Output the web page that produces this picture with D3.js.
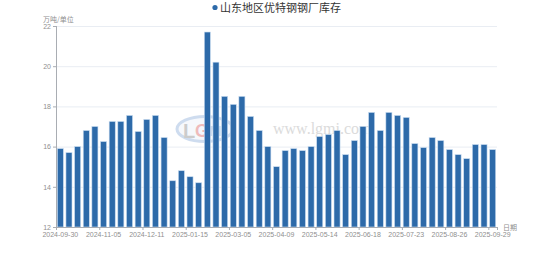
<!DOCTYPE html>
<html>
<head>
<meta charset="utf-8">
<script src="https://cdn.jsdelivr.net/npm/d3@7"></script>
<style>
  html, body { margin: 0; padding: 0; background: #fff; }
  svg { display: block; font-family: "Noto Sans CJK SC", "Noto Sans", sans-serif; }
</style>
</head>
<body>
<svg id="chart"></svg>
<script>
const dates = [
  "2024-09-30", "2024-10-10", "2024-10-16", "2024-10-23", "2024-10-30",
  "2024-11-05", "2024-11-13", "2024-11-20", "2024-11-27", "2024-12-04",
  "2024-12-11", "2024-12-18", "2024-12-25", "2025-01-02", "2025-01-08",
  "2025-01-15", "2025-01-22", "2025-02-12", "2025-02-19", "2025-02-26",
  "2025-03-05", "2025-03-12", "2025-03-19", "2025-03-26", "2025-04-02",
  "2025-04-09", "2025-04-16", "2025-04-23", "2025-04-30", "2025-05-07",
  "2025-05-14", "2025-05-21", "2025-05-28", "2025-06-04", "2025-06-11",
  "2025-06-18", "2025-06-25", "2025-07-02", "2025-07-09", "2025-07-16",
  "2025-07-23", "2025-07-30", "2025-08-06", "2025-08-13", "2025-08-20",
  "2025-08-26", "2025-09-03", "2025-09-10", "2025-09-17", "2025-09-24",
  "2025-09-29"
];

const stock = [
  15.9, 15.7, 16.0, 16.8, 17.0,
  16.25, 17.25, 17.25, 17.55, 16.75,
  17.35, 17.55, 16.45, 14.3, 14.8,
  14.5, 14.2, 21.7, 20.2, 18.5,
  18.1, 18.5, 17.5, 16.8, 16.0,
  15.0, 15.8, 15.9, 15.8, 16.0,
  16.5, 16.6, 16.8, 15.6, 16.3,
  17.0, 17.7, 16.8, 17.7, 17.55,
  17.45, 16.15, 15.95, 16.45, 16.3,
  15.85, 15.6, 15.4, 16.1, 16.1,
  15.85
];

const yTicks = [12, 14, 16, 18, 20, 22];

const seriesName = "山东地区优特钢钢厂库存";
const yName = "万吨/单位";
const xName = "日期";

const width = 553;
const height = 259;
const plotLeft = 56;
const plotRight = 497;
const plotTop = 26;
const plotBottom = 227;

const barColor = "#2d6aa9";
const axisColor = "#a9adb3";
const labelColor = "#8f8f8f";

const svg = d3.select("#chart")
  .attr("width", width)
  .attr("height", height);

svg.append("rect")
  .attr("width", width)
  .attr("height", height)
  .attr("fill", "#fff");

const xScale = d3.scaleBand()
  .domain(dates)
  .range([plotLeft, plotRight])
  .padding(0);

const yScale = d3.scaleLinear()
  .domain([12, 22])
  .range([plotBottom, plotTop]);

// grid lines
svg.append("g")
  .selectAll("line")
  .data(yTicks.slice(1))
  .enter()
  .append("line")
  .attr("x1", plotLeft)
  .attr("x2", plotRight)
  .attr("y1", (d) => yScale(d) + 0.5)
  .attr("y2", (d) => yScale(d) + 0.5)
  .attr("stroke", "#e9edf3")
  .attr("stroke-width", 1);

// watermark (behind the bars)
const wm = svg.append("g").attr("opacity", 0.5);
wm.append("ellipse")
  .attr("cx", 205).attr("cy", 129)
  .attr("rx", 28).attr("ry", 12.5)
  .attr("fill", "#eef3fa")
  .attr("stroke", "#9fbbe0")
  .attr("stroke-width", 3);
wm.append("text")
  .attr("x", 183).attr("y", 138)
  .attr("font-family", "Liberation Sans, sans-serif")
  .attr("font-size", 20).attr("font-weight", "bold")
  .attr("fill", "#9a9a9a")
  .text("L");
wm.append("text")
  .attr("x", 195).attr("y", 137)
  .attr("font-family", "Liberation Sans, sans-serif")
  .attr("font-size", 18).attr("font-weight", "bold")
  .attr("fill", "#e07a7a")
  .text("G");
wm.append("text")
  .attr("x", 209).attr("y", 136)
  .attr("font-family", "Liberation Sans, sans-serif")
  .attr("font-size", 15).attr("font-weight", "bold")
  .attr("fill", "#9fb6d6")
  .text("MI");
wm.append("text")
  .attr("x", 273).attr("y", 134)
  .attr("font-family", "Liberation Serif, DejaVu Serif, serif")
  .attr("font-size", 16)
  .attr("fill", "#b8b8b8")
  .text("www.lgmi.com");

// bars
const bw = xScale.bandwidth();
svg.append("g")
  .selectAll("rect")
  .data(stock)
  .enter()
  .append("rect")
  .attr("x", (d, i) => xScale(dates[i]) + bw * 0.15)
  .attr("width", bw * 0.7)
  .attr("y", (d) => yScale(d))
  .attr("height", (d) => yScale(12) - yScale(d))
  .attr("fill", barColor)
  .attr("stroke", "#c9dcf0")
  .attr("stroke-width", 0.6);

// x axis
const xAxis = d3.axisBottom(xScale)
  .tickValues(dates.filter((d, i) => i % 5 === 0))
  .tickSize(0)
  .tickPadding(5);

const gx = svg.append("g")
  .attr("transform", "translate(0," + plotBottom + ")")
  .call(xAxis);
gx.select(".domain").remove();
gx.selectAll("text")
  .attr("fill", labelColor)
  .attr("font-size", 7)
  .attr("font-family", "Liberation Sans, Arial, sans-serif");

gx.append("line")
  .attr("x1", plotLeft).attr("x2", plotRight)
  .attr("y1", 0.5).attr("y2", 0.5)
  .attr("stroke", axisColor);

// ticks on category boundaries
gx.selectAll(".btick")
  .data(dates.filter((d, i) => i % 5 === 0).concat(["end"]))
  .enter()
  .append("line")
  .attr("class", "btick")
  .attr("x1", (d) => (d === "end" ? plotRight : xScale(d)) + 0.5)
  .attr("x2", (d) => (d === "end" ? plotRight : xScale(d)) + 0.5)
  .attr("y1", 0)
  .attr("y2", 3)
  .attr("stroke", axisColor);

// y axis
const yAxis = d3.axisLeft(yScale)
  .tickValues(yTicks)
  .tickSize(3)
  .tickPadding(2);

const gy = svg.append("g")
  .attr("transform", "translate(" + plotLeft + ",0)")
  .call(yAxis);
gy.select(".domain")
  .attr("stroke", axisColor)
  .attr("d", "M0.5," + plotTop + "V" + plotBottom);
gy.selectAll(".tick line").attr("stroke", axisColor);
gy.selectAll("text")
  .attr("fill", labelColor)
  .attr("font-size", 7)
  .attr("font-family", "Liberation Sans, Arial, sans-serif");

// axis names
svg.append("text")
  .attr("x", 43).attr("y", 21.5)
  .attr("font-size", 7)
  .attr("fill", labelColor)
  .text(yName);

svg.append("text")
  .attr("x", 503).attr("y", 229.5)
  .attr("font-size", 7)
  .attr("fill", labelColor)
  .text(xName);

// legend
svg.append("circle")
  .attr("cx", 215).attr("cy", 7.5)
  .attr("r", 2.6)
  .attr("fill", barColor);

svg.append("text")
  .attr("x", 220).attr("y", 11.5)
  .attr("font-size", 11)
  .attr("fill", "#333")
  .text(seriesName);
</script>
</body>
</html>
